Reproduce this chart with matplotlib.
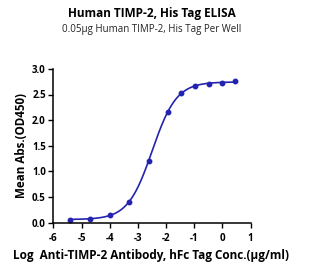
import numpy as np
import matplotlib
matplotlib.use("Agg")
import matplotlib.pyplot as plt

# Data (log10 concentration, mean OD450)
log_conc = [-5.41, -4.71, -4.00, -3.32, -2.62, -1.94, -1.46, -0.97, -0.49, -0.01, 0.46]
od450 = [0.06, 0.08, 0.14, 0.40, 1.21, 2.16, 2.53, 2.66, 2.71, 2.72, 2.77]
x_ticks = [-6, -5, -4, -3, -2, -1, 0, 1]
y_ticks = [0.0, 0.5, 1.0, 1.5, 2.0, 2.5, 3.0]

x = np.array(log_conc)
y = np.array(od450)

def f4(p, xx):
    b, t, c, h = p
    return b + (t - b) / (1 + 10 ** ((c - xx) * h))

# simple Levenberg-Marquardt fit of 4PL
p = np.array([y.min(), y.max(), -2.6, 1.0])
lam = 1e-2
for _ in range(300):
    r = y - f4(p, x)
    J = np.zeros((len(x), 4))
    for i in range(4):
        dp = np.zeros(4); dp[i] = 1e-6
        J[:, i] = (f4(p + dp, x) - f4(p - dp, x)) / 2e-6
    A = J.T @ J
    g = J.T @ r
    step = np.linalg.solve(A + lam * np.diag(np.diag(A)), g)
    pn = p + step
    if np.sum((y - f4(pn, x)) ** 2) < np.sum(r ** 2):
        p = pn; lam *= 0.5
    else:
        lam *= 2

xs = np.linspace(x.min(), x.max(), 400)

color = "#2323b0"
fig = plt.figure(figsize=(3.09, 2.80), dpi=100)
ax = fig.add_axes([0.173, 0.205, 0.638, 0.549])
ax.plot(xs, f4(p, xs), color=color, lw=1.2)
ax.plot(x, y, "o", color=color, ms=3.2)

ax.set_xlim(-6, 1)
ax.set_ylim(0, 3)
ax.set_xticks(x_ticks)
ax.set_yticks(y_ticks)
ax.set_xticklabels([str(t) for t in x_ticks])
ax.set_yticklabels([f"{t:.1f}" for t in y_ticks])
for s in ["top", "right"]:
    ax.spines[s].set_visible(False)
for s in ["left", "bottom"]:
    ax.spines[s].set_linewidth(1.1)
ax.tick_params(direction="out", length=3.5, width=1.0, labelsize=7, pad=2)
for lab in ax.get_xticklabels() + ax.get_yticklabels():
    lab.set_fontweight("bold")
    lab.set_family("Open Sans")
ax.tick_params(axis="x", pad=4)

ax.set_ylabel("Mean Abs.(OD450)", fontsize=8.4, fontweight="bold", family="Open Sans", labelpad=3)
fig.text(0.49, 0.088, "Log  Anti-TIMP-2 Antibody, hFc Tag Conc.(\u03bcg/ml)", ha="center", va="center",
         fontsize=8.5, fontweight="bold", family="Open Sans")
fig.text(0.49, 0.95, "Human TIMP-2, His Tag ELISA", ha="center", va="center",
         fontsize=8.5, fontweight="bold", family="Open Sans")
fig.text(0.49, 0.895, "0.05\u03bcg Human TIMP-2, His Tag Per Well", ha="center", va="center",
         fontsize=7.0, family="Open Sans", color="#222222")

fig.savefig("out.png", dpi=100)
